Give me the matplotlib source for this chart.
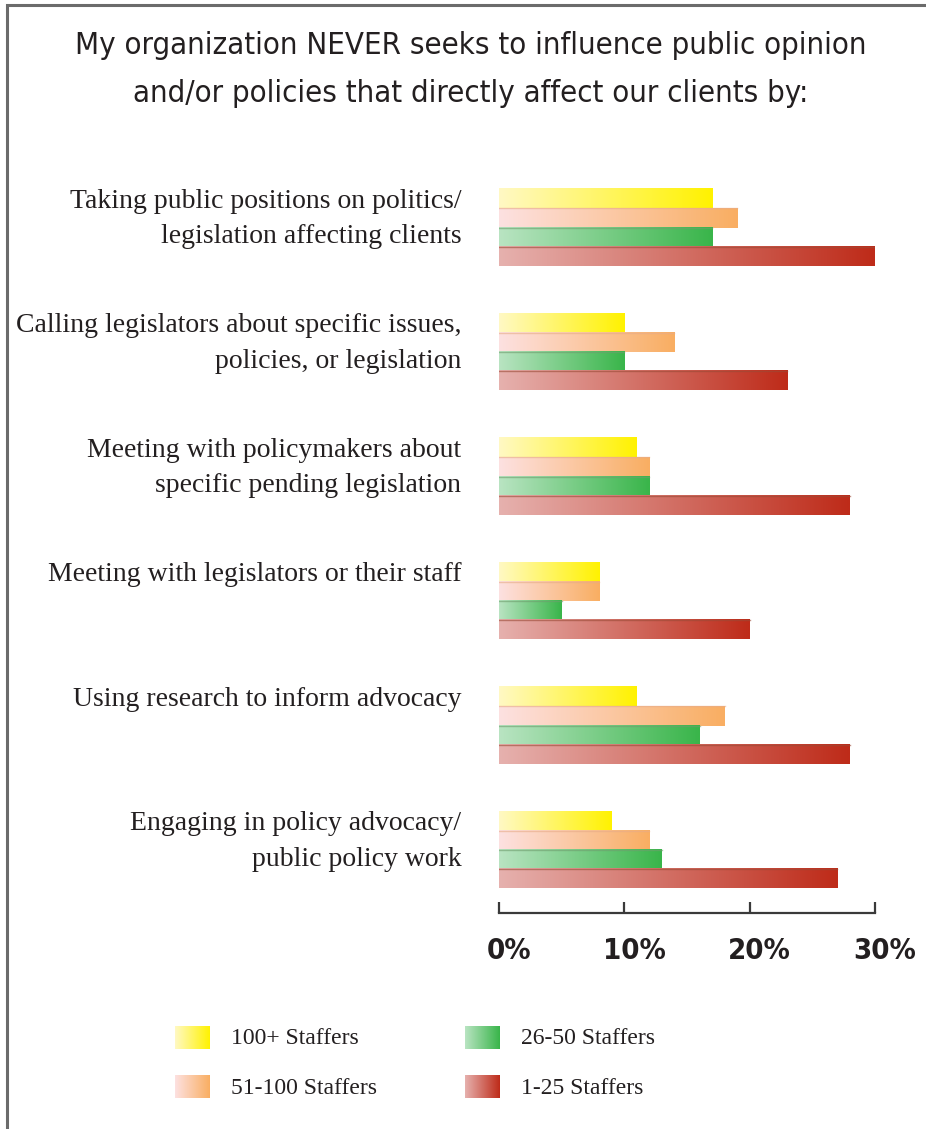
import numpy as np
import matplotlib.pyplot as plt
from matplotlib.colors import LinearSegmentedColormap
from matplotlib.transforms import ScaledTranslation

categories = [
    "Taking public positions on politics/\nlegislation affecting clients",
    "Calling legislators about specific issues,\npolicies, or legislation",
    "Meeting with policymakers about\nspecific pending legislation",
    "Meeting with legislators or their staff",
    "Using research to inform advocacy",
    "Engaging in policy advocacy/\npublic policy work",
]
series_names = ["100+ Staffers", "51-100 Staffers", "26-50 Staffers", "1-25 Staffers"]
staff_100_plus = [17, 10, 11, 8, 11, 9]
staff_51_100 = [19, 14, 12, 8, 18, 12]
staff_26_50 = [17, 10, 12, 5, 16, 13]
staff_1_25 = [30, 23, 28, 20, 28, 27]
x_ticks = [0, 10, 20, 30]
x_tick_labels = ["0%", "10%", "20%", "30%"]

series_values = [staff_100_plus, staff_51_100, staff_26_50, staff_1_25]
gradients = [
    ("#fff9c4", "#fff200"),
    ("#fde1e1", "#f9ae62"),
    ("#b9e4c2", "#39b54a"),
    ("#e6b1ae", "#be2b19"),
]
edge_colors = ["#f6d79a", "#e7ab88", "#6f9e6e", "#9a4a36"]

W, H, DPI = 926, 1129, 100
fig = plt.figure(figsize=(W / DPI, H / DPI), dpi=DPI)
fig.patch.set_facecolor("white")

title_font = ["DejaVu Sans"]
serif_font = ["Liberation Serif", "DejaVu Serif"]

# background overlay in pixel coords for frame, title and legend
bg = fig.add_axes([0, 0, 1, 1])
bg.set_xlim(0, W)
bg.set_ylim(H, 0)
bg.axis("off")
bg.plot([7, 7, W], [H, 5, 5], color="#6b6b6b", linewidth=2.2, solid_joinstyle="miter")
bg.text(471, 46, "My organization NEVER seeks to influence public opinion",
        ha="center", va="center", fontsize=22.3, family=title_font,
        fontstretch="condensed", color="#231f20")
bg.text(471, 93, "and/or policies that directly affect our clients by:",
        ha="center", va="center", fontsize=22.3, family=title_font,
        fontstretch="condensed", color="#231f20")

grad = np.linspace(0, 1, 256).reshape(1, -1)
cmaps = [LinearSegmentedColormap.from_list(f"g{i}", list(c)) for i, c in enumerate(gradients)]

legend_pos = [(175, 1026), (175, 1075), (465, 1026), (465, 1075)]
for (lx, ly), name, cmap in zip(legend_pos, series_names, cmaps):
    bg.imshow(grad, cmap=cmap, extent=[lx, lx + 35, ly + 23, ly], aspect="auto", zorder=2)
    bg.text(lx + 56, ly + 13, name, ha="left", va="center", fontsize=17,
            family=serif_font, color="#231f20")

# main chart axes: x 0..30 maps to pixels 499..875
left, right = 499 / W, 875 / W
bottom, top = 1 - 913 / H, 1 - 170 / H
ax = fig.add_axes([left, bottom, right - left, top - bottom])
ax.set_facecolor("none")

bar_h = 0.153
for s, (vals, cmap, ec) in enumerate(zip(series_values, cmaps, edge_colors)):
    for i, v in enumerate(vals):
        y0 = i - 2 * bar_h + s * bar_h
        ax.imshow(grad, cmap=cmap, extent=[0, v, y0 + bar_h, y0], aspect="auto",
                  interpolation="bilinear", zorder=2)
        if s > 0:
            ax.plot([0, v], [y0, y0], color=ec, linewidth=1.0, alpha=0.6, zorder=3)

for i, label in enumerate(categories):
    ax.text(-3.0, i - 0.31, label, ha="right", va="top", fontsize=20,
            family=serif_font, color="#231f20", linespacing=1.55, clip_on=False)

ax.set_xlim(0, 30)
ax.set_ylim((913 - 227.5) / 124.5, (170 - 227.5) / 124.5)
ax.set_yticks([])
for side in ["top", "right", "left"]:
    ax.spines[side].set_visible(False)
ax.spines["bottom"].set_color("#3a3a3a")
ax.spines["bottom"].set_linewidth(1.6)
ax.set_xticks(x_ticks)
ax.set_xticklabels(x_tick_labels, fontsize=21, family=title_font,
                   fontstretch="condensed", fontweight="bold", color="#231f20")
ax.tick_params(axis="x", direction="in", length=8, width=1.6, color="#3a3a3a", pad=17)
for lab in ax.get_xticklabels():
    lab.set_transform(lab.get_transform() + ScaledTranslation(0.1, 0, fig.dpi_scale_trans))

fig.savefig("out.png", dpi=DPI, facecolor="white")
